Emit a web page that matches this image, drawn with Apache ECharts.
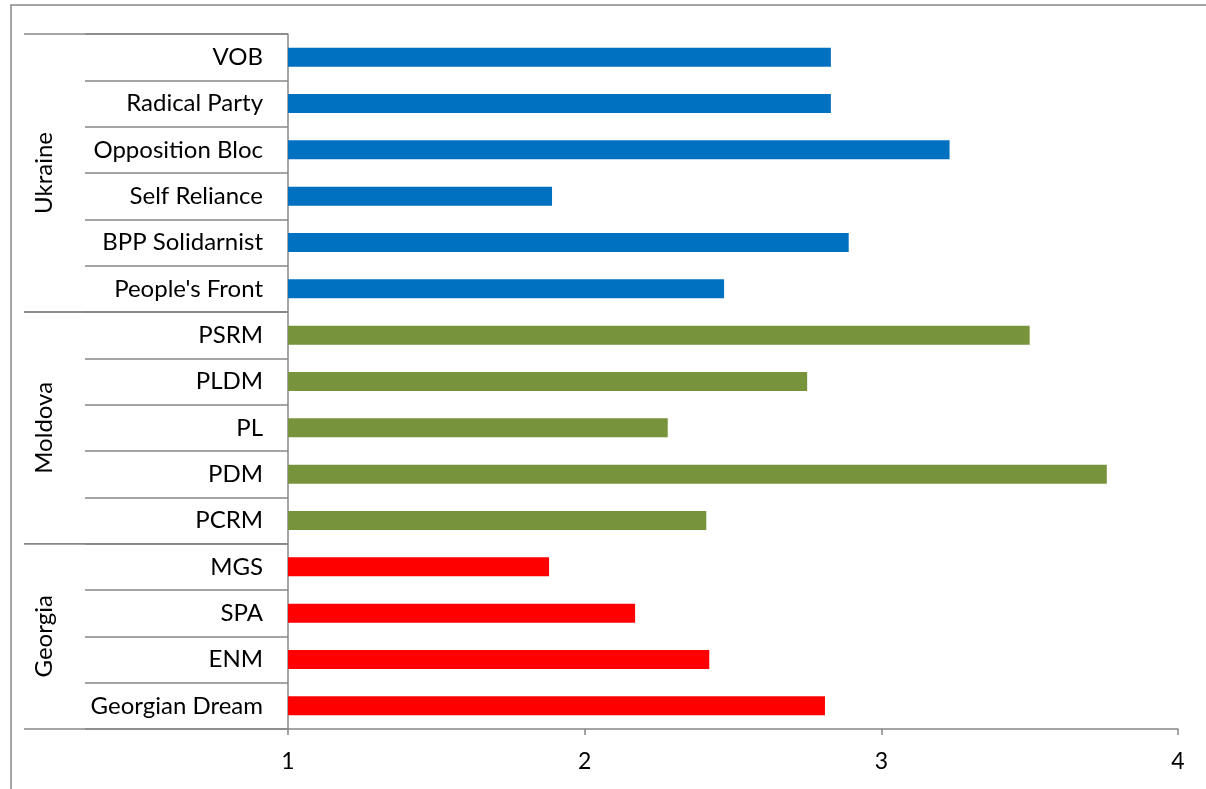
<!DOCTYPE html>
<html>
<head>
<meta charset="utf-8">
<script src="https://cdn.jsdelivr.net/npm/echarts@6/dist/echarts.min.js"></script>
<style>
    html, body { margin: 0; padding: 0; background: #ffffff; }
    #chart { width: 1206px; height: 789px; }
</style>
</head>
<body>
<div id="chart"></div>
<script>
    // data
    const groups = ['Ukraine', 'Moldova', 'Georgia'];
    const ukraineParties = ['VOB', 'Radical Party', 'Opposition Bloc', 'Self Reliance', 'BPP Solidarnist', "People's Front"];
    const ukraineScores = [2.83, 2.83, 3.23, 1.89, 2.89, 2.47];
    const moldovaParties = ['PSRM', 'PLDM', 'PL', 'PDM', 'PCRM'];
    const moldovaScores = [3.50, 2.75, 2.28, 3.76, 2.41];
    const georgiaParties = ['MGS', 'SPA', 'ENM', 'Georgian Dream'];
    const georgiaScores = [1.88, 2.17, 2.42, 2.81];
    const xTicks = [1, 2, 3, 4];

    const groupColors = ['#0070C0', '#77933C', '#FF0000'];
    const lineColor = '#878787';
    const font = 'Lato';

    const partyLists = [ukraineParties, moldovaParties, georgiaParties];
    const scoreLists = [ukraineScores, moldovaScores, georgiaScores];

    // flatten into one category axis, colour each bar by its country
    const categories = [];
    const barData = [];
    partyLists.forEach(function (parties, g) {
        parties.forEach(function (p, i) {
            categories.push(p);
            barData.push({ value: scoreLists[g][i], itemStyle: { color: groupColors[g] } });
        });
    });

    const chart = echarts.init(document.getElementById('chart'));

    chart.setOption({
        animation: false,
        grid: { left: 288, right: 28, top: 34, bottom: 60 },
        xAxis: {
            type: 'value',
            min: xTicks[0],
            max: xTicks[xTicks.length - 1],
            interval: 1,
            axisLine: { show: true, lineStyle: { color: lineColor, width: 1.5 } },
            axisTick: { show: true, length: 6, lineStyle: { color: lineColor, width: 1.5 } },
            splitLine: { show: false },
            axisLabel: { color: '#000', fontSize: 23, fontFamily: font, margin: 21 }
        },
        yAxis: {
            type: 'category',
            inverse: true,
            data: categories,
            axisLine: { show: true, lineStyle: { color: lineColor, width: 1.5 } },
            // long ticks make the row separators of the label table
            axisTick: { show: true, length: 203, lineStyle: { color: lineColor, width: 1.5 } },
            axisLabel: { color: '#000', fontSize: 24, fontFamily: font, margin: 25 }
        },
        series: [{
            type: 'bar',
            data: barData,
            barWidth: 19
        }]
    });

    // group separators and country labels, placed through the category axis
    const c0 = chart.convertToPixel({ yAxisIndex: 0 }, categories[0]);
    const c1 = chart.convertToPixel({ yAxisIndex: 0 }, categories[1]);
    const band = c1 - c0;
    const axisX = chart.convertToPixel({ xAxisIndex: 0 }, xTicks[0]);
    const graphics = [{
        type: 'rect',
        shape: { x: 11, y: 5, width: 1400, height: 900 },
        style: { fill: null, stroke: lineColor, lineWidth: 1.5 },
        silent: true
    }];
    let start = 0;
    partyLists.forEach(function (parties, g) {
        const topY = chart.convertToPixel({ yAxisIndex: 0 }, categories[start]) - band / 2;
        const botY = topY + band * parties.length;
        [topY, botY].forEach(function (y) {
            graphics.push({
                type: 'line',
                shape: { x1: 24, y1: y, x2: axisX, y2: y },
                style: { stroke: lineColor, lineWidth: 1.5 },
                silent: true
            });
        });
        graphics.push({
            type: 'text',
            x: 44,
            y: (topY + botY) / 2,
            rotation: Math.PI / 2,
            style: {
                text: groups[g],
                fill: '#000',
                font: '24px ' + font,
                align: 'center',
                verticalAlign: 'middle'
            },
            silent: true
        });
        start += parties.length;
    });
    chart.setOption({ graphic: graphics });
</script>
</body>
</html>
